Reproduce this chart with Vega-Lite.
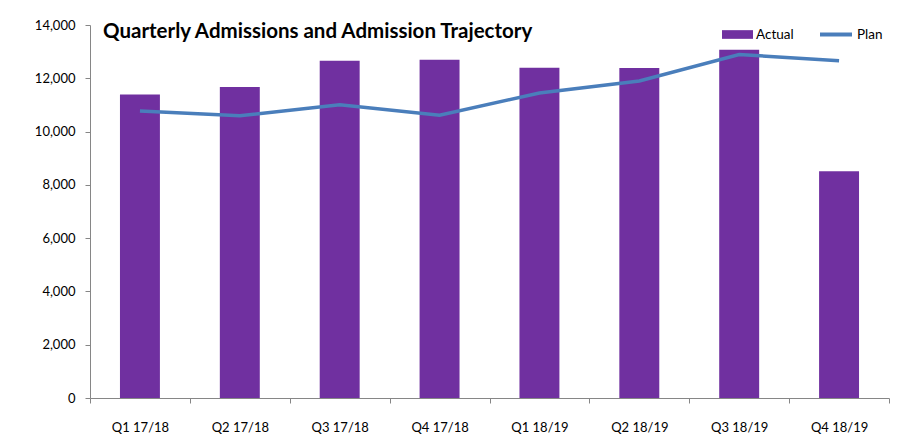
{
  "$schema": "https://vega.github.io/schema/vega-lite/v6.json",
  "autosize": "none",
  "width": 799,
  "height": 373,
  "padding": {"left": 90, "top": 25, "right": 26, "bottom": 41},
  "background": "white",
  "title": {
    "text": "Quarterly Admissions and Admission Trajectory",
    "anchor": "start",
    "frame": "group",
    "orient": "top",
    "offset": 0,
    "dx": 13,
    "dy": 42,
    "baseline": "alphabetic",
    "font": "Lato",
    "fontSize": 20.5,
    "fontWeight": "bold",
    "color": "#000000"
  },
  "data": {
    "values": [
      {"quarter": "Q1 17/18", "actual": 11390, "plan": 10770},
      {"quarter": "Q2 17/18", "actual": 11670, "plan": 10590},
      {"quarter": "Q3 17/18", "actual": 12660, "plan": 11010},
      {"quarter": "Q4 17/18", "actual": 12700, "plan": 10610},
      {"quarter": "Q1 18/19", "actual": 12400, "plan": 11450},
      {"quarter": "Q2 18/19", "actual": 12390, "plan": 11900},
      {"quarter": "Q3 18/19", "actual": 13070, "plan": 12890},
      {"quarter": "Q4 18/19", "actual": 8510, "plan": 12660}
    ]
  },
  "encoding": {
    "x": {
      "field": "quarter",
      "type": "nominal",
      "sort": null,
      "scale": {"paddingInner": 0, "paddingOuter": 0},
      "axis": {
        "title": null,
        "labelAngle": 0,
        "tickBand": "extent",
        "tickSize": 5,
        "tickColor": "#868686",
        "domainColor": "#868686",
        "labelPadding": 18,
        "labelFont": "Lato",
        "labelFontSize": 13,
        "labelColor": "#000000"
      }
    }
  },
  "layer": [
    {
      "mark": {"type": "bar", "width": {"band": 0.4}},
      "encoding": {
        "y": {
          "field": "actual",
          "type": "quantitative",
          "scale": {"domain": [0, 14000]},
          "axis": {
            "title": null,
            "values": [0, 2000, 4000, 6000, 8000, 10000, 12000, 14000],
            "format": ",.0f",
            "grid": false,
            "tickSize": 5,
            "tickColor": "#868686",
            "domainColor": "#868686",
            "labelPadding": 10,
            "labelFont": "Lato",
            "labelFontSize": 13,
            "labelColor": "#000000"
          }
        },
        "fill": {
          "datum": "Actual",
          "scale": {"domain": ["Actual"], "range": ["#7030A0"]},
          "legend": {
            "title": null,
            "orient": "none",
            "legendX": 632,
            "legendY": -6,
            "padding": 0,
            "symbolType": "M-1,-0.28H1V0.28H-1Z",
            "symbolSize": 961,
            "symbolStrokeWidth": 0,
            "labelOffset": 3,
            "labelFont": "Lato",
            "labelFontSize": 13.5,
            "labelColor": "#000000"
          }
        }
      }
    },
    {
      "mark": {"type": "line", "strokeWidth": 3.5},
      "encoding": {
        "y": {"field": "plan", "type": "quantitative"},
        "stroke": {
          "datum": "Plan",
          "scale": {"domain": ["Plan"], "range": ["#4A7EBB"]},
          "legend": {
            "title": null,
            "orient": "none",
            "legendX": 728,
            "legendY": -8.5,
            "padding": 0,
            "symbolType": "stroke",
            "symbolSize": 1024,
            "symbolStrokeWidth": 4,
            "labelOffset": 3,
            "labelFont": "Lato",
            "labelFontSize": 13.5,
            "labelColor": "#000000"
          }
        }
      }
    }
  ],
  "config": {"view": {"stroke": null}}
}
